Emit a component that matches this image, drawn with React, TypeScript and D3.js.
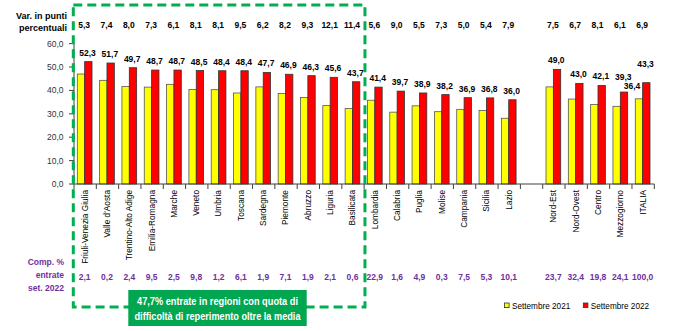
import React from "react";
import * as d3 from "d3";

// ---- data ----
const categories = [
  "Friuli-Venezia Giulia", "Valle d'Aosta", "Trentino-Alto Adige", "Emilia-Romagna", "Marche",
  "Veneto", "Umbria", "Toscana", "Sardegna", "Piemonte", "Abruzzo", "Liguria", "Basilicata",
  "Lombardia", "Calabria", "Puglia", "Molise", "Campania", "Sicilia", "Lazio", "",
  "Nord-Est", "Nord-Ovest", "Centro", "Mezzogiorno", "ITALIA",
];
const sept2022 = [52.3, 51.7, 49.7, 48.7, 48.7, 48.5, 48.4, 48.4, 47.7, 46.9, 46.3, 45.6, 43.7,
  41.4, 39.7, 38.9, 38.2, 36.9, 36.8, 36.0, null, 49.0, 43.0, 42.1, 39.3, 43.3];
const sept2021 = [47.0, 44.3, 41.7, 41.4, 42.6, 40.4, 40.3, 38.9, 41.5, 38.7, 37.0, 33.5, 32.3,
  35.8, 30.7, 33.4, 30.9, 31.9, 31.4, 28.1, null, 41.5, 36.3, 34.0, 33.2, 36.4];
const varPoints = [5.3, 7.4, 8.0, 7.3, 6.1, 8.1, 8.1, 9.5, 6.2, 8.2, 9.3, 12.1, 11.4,
  5.6, 9.0, 5.5, 7.3, 5.0, 5.4, 7.9, null, 7.5, 6.7, 8.1, 6.1, 6.9];
const compShare = [2.1, 0.2, 2.4, 9.5, 2.5, 9.8, 1.2, 6.1, 1.9, 7.1, 1.9, 2.1, 0.6,
  22.9, 1.6, 4.9, 0.3, 7.5, 5.3, 10.1, null, 23.7, 32.4, 19.8, 24.1, 100.0];
const yTicks = [0, 10, 20, 30, 40, 50, 60];
const seriesNames = ["Settembre 2021", "Settembre 2022"];
const highlightedCount = 13;
const highlightText = ["47,7% entrate in regioni con quota di", "difficoltà di reperimento oltre la media"];

// ---- style ----
const W = 700, H = 331;
const FONT = "'Liberation Sans', Arial, sans-serif";
const YELLOW = "#FFFF00", RED = "#FF0000", PURPLE = "#7030A0", GREEN = "#00B050";
const labelLift: Record<string, number> = { Mezzogiorno: 6, ITALIA: 10 };

const fmt = (v: number) => d3.format(".1f")(v).replace(".", ",");

export default function App() {
  const idx = d3.range(categories.length).map(String);
  const x = d3.scaleBand<string>().domain(idx).range([74, 654.3]).padding(0);
  const bw = x.bandwidth();
  const x1 = d3.scaleBand<string>().domain(["a", "b"]).range([bw * 0.148, bw * 0.807]).padding(0);
  const y = d3.scaleLinear().domain([0, 60]).range([184, 43.6]);
  const y0 = y(0);

  const boxRight = x(String(highlightedCount))!;
  const boxLeft = x("0")!;

  return (
    <svg width={W} height={H} style={{ position: "absolute", left: 0, top: 0, background: "#fff" }}
      fontFamily={FONT}>
      <rect width={W} height={H} fill="#fff" />

      {/* top-left label */}
      <text x={67} y={19} textAnchor="end" fontSize={9} fontWeight="bold">Var. in punti</text>
      <text x={67} y={30.5} textAnchor="end" fontSize={9} fontWeight="bold">percentuali</text>

      {/* var row */}
      {varPoints.map((v, i) => v == null ? null : (
        <text key={"v" + i} x={x(String(i))! + bw / 2 - 1} y={28} textAnchor="middle" fontSize={8.5}
          fontWeight="bold">{fmt(v)}</text>
      ))}

      {/* y axis */}
      {yTicks.map(t => (
        <g key={"yt" + t}>
          <line x1={69} x2={74} y1={y(t)} y2={y(t)} stroke="#404040" />
          <text x={63.5} y={y(t)} dy="0.35em" textAnchor="end" fontSize={8.5} fill="#333">{fmt(t)}</text>
        </g>
      ))}
      <line x1={74} x2={74} y1={y(60)} y2={y0} stroke="#404040" />

      {/* bars */}
      {categories.map((c, i) => {
        const bx = x(String(i))!;
        const a = sept2021[i], b = sept2022[i];
        if (a == null || b == null) return null;
        return (
          <g key={"b" + i}>
            <rect x={bx + x1("a")!} y={y(a)} width={x1.bandwidth()} height={y0 - y(a)} fill={YELLOW}
              stroke="#555" strokeWidth={0.8} />
            <rect x={bx + x1("b")!} y={y(b)} width={x1.bandwidth()} height={y0 - y(b)} fill={RED}
              stroke="#333" strokeWidth={0.8} />
            <text x={bx + x1("b")! + x1.bandwidth() / 2 - 0.8} y={y(b) - 6 - (labelLift[c] || 0)}
              textAnchor="middle" fontSize={8.5} fontWeight="bold">{fmt(b)}</text>
            {c === "ITALIA" && (
              <text x={bx + x1("a")! + x1.bandwidth() / 2 - 7} y={y(a) - 10} textAnchor="middle"
                fontSize={8.5} fontWeight="bold">{fmt(a)}</text>
            )}
          </g>
        );
      })}

      {/* x axis */}
      <line x1={74} x2={654.3} y1={y0} y2={y0} stroke="#404040" />
      {d3.range(categories.length + 1).map(i => {
        const tx = 74 + i * bw;
        return <line key={"xt" + i} x1={tx} x2={tx} y1={y0} y2={y0 + 5} stroke="#404040" />;
      })}
      {categories.map((c, i) => c ? (
        <text key={"c" + i} transform={`translate(${x(String(i))! + bw / 2 - 0.5},190) rotate(-90)`}
          textAnchor="end" dy="0.35em" fontSize={8.3}>{c}</text>
      ) : null)}

      {/* comp row */}
      <text x={64} y={265} textAnchor="end" fontSize={8.5} fontWeight="bold" fill={PURPLE}>Comp. %</text>
      <text x={64} y={278} textAnchor="end" fontSize={8.5} fontWeight="bold" fill={PURPLE}>entrate</text>
      <text x={64} y={290.5} textAnchor="end" fontSize={8.5} fontWeight="bold" fill={PURPLE}>set. 2022</text>
      {compShare.map((v, i) => v == null ? null : (
        <text key={"p" + i} x={x(String(i))! + bw / 2 - 0.5} y={279.5} textAnchor="middle" fontSize={8.5}
          fontWeight="bold" fill={PURPLE}>{fmt(v)}</text>
      ))}

      {/* highlight dashed box */}
      <rect x={boxLeft - 0.7} y={5} width={boxRight - boxLeft + 1.5} height={302} fill="none" stroke={GREEN}
        strokeWidth={3} strokeDasharray="9,5" />
      <rect x={128.3} y={290} width={178.4} height={36} fill="#00A650" />
      {highlightText.map((t, k) => (
        <text key={"h" + k} x={217.5} y={305 + k * 15} textAnchor="middle" fontSize={11} fontWeight="bold"
          fill="#fff" textLength={k === 0 ? 161 : 166} lengthAdjust="spacingAndGlyphs">{t}</text>
      ))}

      {/* legend */}
      {seriesNames.map((s, k) => {
        const lx = k === 0 ? 504.5 : 583.3;
        return (
          <g key={"l" + k}>
            <rect x={lx} y={303} width={4.6} height={4.6} fill={k === 0 ? YELLOW : RED} stroke="#333"
              strokeWidth={0.8} />
            <text x={lx + 7.5} y={308.5} fontSize={8.2}>{s}</text>
          </g>
        );
      })}
    </svg>
  );
}
